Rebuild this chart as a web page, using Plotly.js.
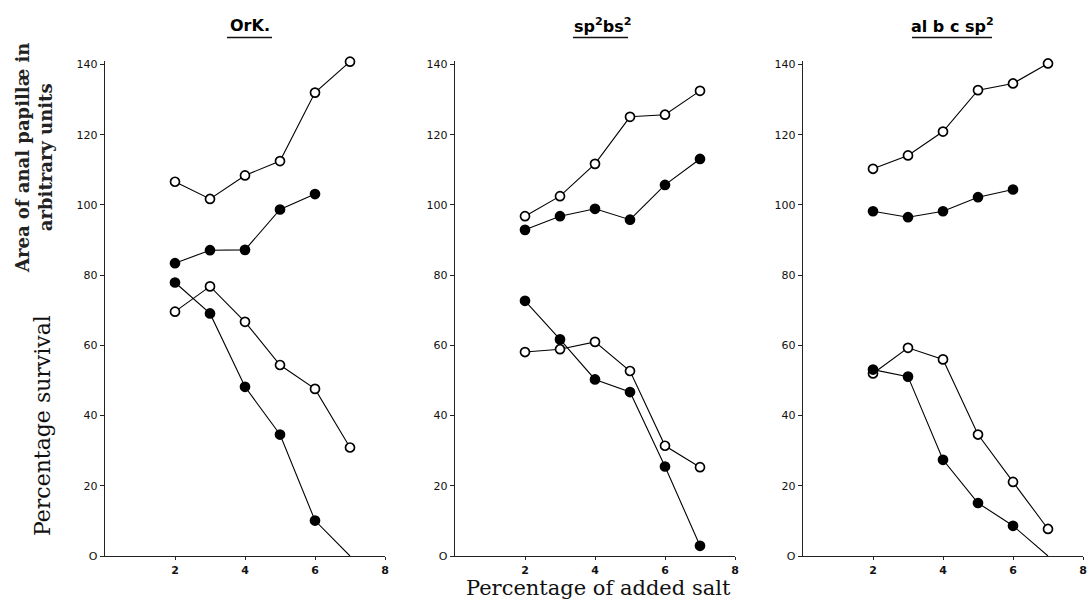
<!DOCTYPE html>
<html>
<head>
<meta charset="utf-8">
<script src="https://cdn.plot.ly/plotly-3.0.1.min.js"></script>
<style>html,body{margin:0;padding:0;background:#fff;}#chart{width:1087px;height:610px;}</style>
</head>
<body>
<div id="chart"></div>
<script>
// Shared x values (percentage of added salt)
const salt = [2, 3, 4, 5, 6, 7];

// Panel titles
const panelTitles = ["OrK.", "sp<sup>2</sup>bs<sup>2</sup>", "al b c sp<sup>2</sup>"];

// Area of anal papillae (upper curves)
const orkAreaOpen    = [106.6, 101.7, 108.4, 112.5, 132.0, 140.8];
const orkAreaFilled  = [83.4, 87.1, 87.2, 98.7, 103.1];
const spbAreaOpen    = [96.8, 102.5, 111.7, 125.1, 125.7, 132.5];
const spbAreaFilled  = [92.9, 96.8, 98.9, 95.8, 105.7, 113.1];
const albAreaOpen    = [110.3, 114.1, 120.9, 132.7, 134.6, 140.3];
const albAreaFilled  = [98.2, 96.5, 98.2, 102.2, 104.4];

// Percentage survival (lower curves)
const orkSurvOpen    = [69.6, 76.8, 66.7, 54.4, 47.6, 30.9];
const orkSurvFilled  = [77.9, 69.1, 48.2, 34.6, 10.1, 0];
const spbSurvOpen    = [58.1, 58.9, 61.0, 52.7, 31.4, 25.3];
const spbSurvFilled  = [72.7, 61.7, 50.3, 46.7, 25.5, 2.9];
const albSurvOpen    = [52.0, 59.3, 56.0, 34.6, 21.1, 7.7];
const albSurvFilled  = [53.1, 51.1, 27.4, 15.1, 8.6, 0];

const yTicks = [0, 20, 40, 60, 80, 100, 120, 140];
const yTickText = ["O", "20", "40", "60", "80", "100", "120", "140"];
const xTicks = [2, 4, 6, 8];
const xTickText = ["2", "4", "6", "8"];

const panels = [
  {areaOpen: orkAreaOpen, areaFilled: orkAreaFilled, survOpen: orkSurvOpen, survFilled: orkSurvFilled},
  {areaOpen: spbAreaOpen, areaFilled: spbAreaFilled, survOpen: spbSurvOpen, survFilled: spbSurvFilled},
  {areaOpen: albAreaOpen, areaFilled: albAreaFilled, survOpen: albSurvOpen, survFilled: albSurvFilled}
];

function mk(y, filled, idx) {
  const sfx = idx === 0 ? "" : String(idx + 1);
  return {
    type: "scatter", mode: "lines+markers",
    x: salt.slice(0, y.length), y: y,
    xaxis: "x" + sfx, yaxis: "y" + sfx,
    line: {color: "#000", width: 1.1},
    marker: {
      symbol: "circle",
      size: y.map(v => v === 0 ? 0 : 9),
      color: filled ? "#000" : "#fff",
      opacity: 1,
      line: {color: "#000", width: 1.7}
    },
    cliponaxis: false,
    hoverinfo: "x+y"
  };
}

const data = [];
panels.forEach((p, i) => {
  data.push(mk(p.areaOpen, false, i));
  data.push(mk(p.areaFilled, true, i));
  data.push(mk(p.survOpen, false, i));
  data.push(mk(p.survFilled, true, i));
});

const W = 978;
const domains = [[0, 280 / W], [350 / W, 630 / W], [698 / W, 1]];
const tickFont = {family: "DejaVu Sans", size: 11, color: "#111", weight: "bold"};

const layout = {
  width: 1087, height: 610,
  margin: {l: 105, r: 4, t: 61, b: 54},
  paper_bgcolor: "#fff", plot_bgcolor: "#fff",
  showlegend: false,
  annotations: [], shapes: []
};

domains.forEach((d, i) => {
  const sfx = i === 0 ? "" : String(i + 1);
  layout["xaxis" + sfx] = {
    domain: d, anchor: "y" + sfx, range: [0, 8],
    tickvals: xTicks, ticktext: xTickText,
    ticks: "outside", ticklen: 3, tickcolor: "#222",
    showgrid: false, zeroline: false,
    showline: true, linecolor: "#222", linewidth: 1.3,
    tickfont: tickFont
  };
  layout["yaxis" + sfx] = {
    domain: [0, 1], anchor: "x" + sfx, range: [0, 141],
    tickvals: yTicks, ticktext: yTickText,
    ticks: "outside", ticklen: 4, tickcolor: "#222",
    showgrid: false, zeroline: false,
    showline: true, linecolor: "#222", linewidth: 1.3,
    tickfont: {family: "DejaVu Sans", size: 11, color: "#111"}
  };
});

const titleX = [0.1483, 0.5092, 0.8661];
const underline = [[0.1247, 0.1708], [0.4785, 0.5348], [0.8252, 0.9070]];
panelTitles.forEach((t, i) => {
  layout.annotations.push({
    xref: "paper", yref: "paper", x: titleX[i], y: 1.0727,
    text: t, showarrow: false, xanchor: "center", yanchor: "middle",
    font: {family: "DejaVu Sans", size: 16, color: "#000", weight: "bold"}
  });
  layout.shapes.push({
    type: "line", xref: "paper", yref: "paper",
    x0: underline[i][0], x1: underline[i][1], y0: 1.0475, y1: 1.0475,
    line: {color: "#111", width: 1.6}
  });
});

layout.annotations.push({
  xref: "paper", yref: "paper", x: -0.0726, y: 0.804,
  text: "Area of anal papillæ in<br>arbitrary units", showarrow: false,
  textangle: -90, xanchor: "center", yanchor: "middle",
  font: {family: "DejaVu Serif", size: 18, color: "#222", weight: "bold"}
});
layout.annotations.push({
  xref: "paper", yref: "paper", x: -0.0644, y: 0.2626,
  text: "Percentage survival", showarrow: false,
  textangle: -90, xanchor: "center", yanchor: "middle",
  font: {family: "DejaVu Serif", size: 22, color: "#111"}
});
layout.annotations.push({
  xref: "paper", yref: "paper", x: 0.5041, y: -0.0646,
  text: "Percentage of added salt", showarrow: false,
  xanchor: "center", yanchor: "middle",
  font: {family: "DejaVu Serif", size: 21, color: "#111"}
});

Plotly.newPlot("chart", data, layout, {displayModeBar: false, staticPlot: true});
</script>
</body>
</html>
